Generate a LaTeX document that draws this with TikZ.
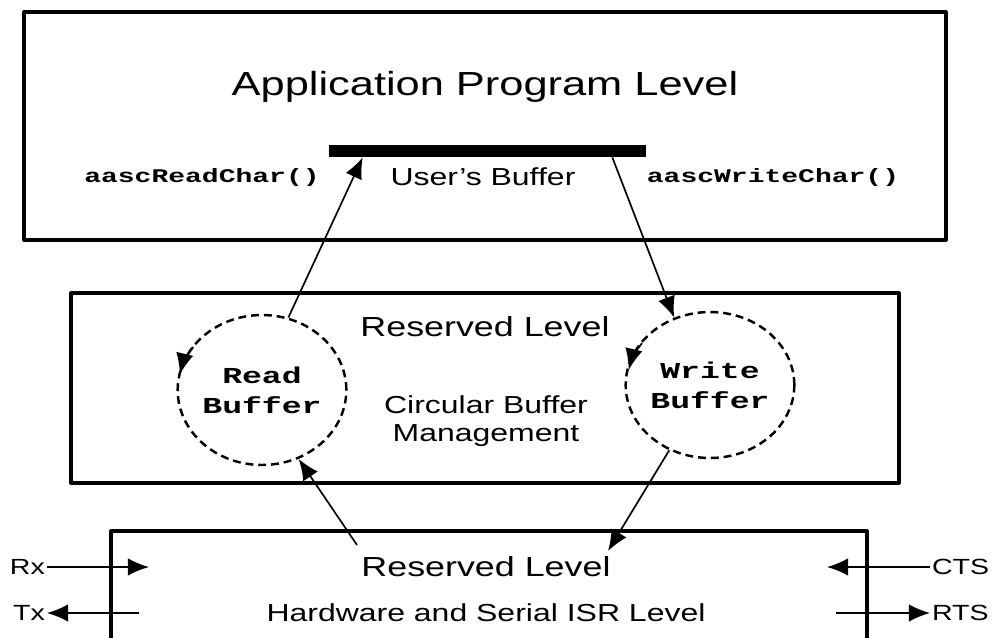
\documentclass[tikz,border=0pt]{standalone}
\usepackage{fontspec}
\setmainfont{Liberation Sans}[FakeStretch=1.3]
\newfontfamily\codefont{Liberation Mono}[FakeStretch=1.45]
\usetikzlibrary{arrows.meta,shapes.geometric,calc}

\tikzset{
  box/.style={line width=1.8pt},
  flow/.style={-{Latex[length=12pt,width=10pt]},line width=0.95pt},
  ring/.style={ellipse,draw,line width=1.4pt,dash pattern=on 4.5pt off 2.8pt,
    align=center,inner sep=0pt,font=\codefont\bfseries\fontsize{13}{17}\selectfont},
  big/.style={font=\fontsize{19}{22}\selectfont},
  lvl/.style={font=\fontsize{15.7}{18}\selectfont},
  small/.style={font=\fontsize{14}{16}\selectfont,align=center},
  side/.style={font=\fontsize{12.5}{14}\selectfont,inner sep=1pt},
  code/.style={font=\codefont\bfseries\fontsize{11}{13}\selectfont}
}

\begin{document}
\begin{tikzpicture}[x=0.02cm,y=-0.02cm,line join=round]
\useasboundingbox (0,0) rectangle (994,637);
% application level
\draw[box] (24,12) rectangle (946,240);
\node[big] (apl) at (485,87) {Application Program Level};
\node[fill=black,inner sep=0pt,minimum width=6.34cm,minimum height=0.24cm] (ubuf) at (487.5,151) {};
\node[small] (ubl) at (483,177) {User's Buffer};
\node[code] (rdc) at (202,177) {aascReadChar()};
\node[code] (wrc) at (773,177) {aascWriteChar()};

% circular buffer level
\draw[box] (71,293) rectangle (899,483);
\node[lvl] (rl1) at (485,327) {Reserved Level};
\node[ring,minimum width=3.36cm,minimum height=3cm] (rbuf) at (262,390) {Read\\Buffer};
\node[ring,minimum width=3.32cm,minimum height=2.92cm] (wbuf) at (710,385) {Write\\Buffer};
\node[small] (cbm) at (486,421) {Circular Buffer\\Management};
\draw[flow] ($(rbuf.center)+(145:1.68cm and 1.5cm)$) arc[start angle=145,end angle=168,x radius=1.68cm,y radius=1.5cm];
\draw[flow] ($(wbuf.center)+(145:1.66cm and 1.46cm)$) arc[start angle=145,end angle=168,x radius=1.66cm,y radius=1.46cm];

% hardware level
\draw[box] (111,645) |- (867,531) -- (867,645);
\node[lvl] (rl2) at (486,567) {Reserved Level};
\node[small] (hsl) at (486,613) {Hardware and Serial ISR Level};
\node[side,anchor=east] (rx) at (47,567) {Rx};
\node[side,anchor=east] (tx) at (47,613) {Tx};
\node[side,anchor=west] (cts) at (930,567) {CTS};
\node[side,anchor=west] (rts) at (930,613) {RTS};
\coordinate (rxin) at (149,567);
\coordinate (txout) at (139,613);
\coordinate (ctsin) at (827,567);
\coordinate (rtsout) at (836,613);
\coordinate (hwup) at (357,545);
\coordinate (hwdn) at (608,551);

% data paths
\draw[flow] (rbuf.70) -- ($(ubuf.south west)+(34,0)$);
\draw[flow] ($(ubuf.south east)+(-34,0)$) -- (wbuf.118);
\draw[flow] (hwup) -- (rbuf.-62);
\draw[flow] (wbuf.-122) -- (hwdn);
\draw[flow] (rx) -- (rxin);
\draw[flow] (txout) -- (tx);
\draw[flow] (cts) -- (ctsin);
\draw[flow] (rtsout) -- (rts);
\end{tikzpicture}
\end{document}
